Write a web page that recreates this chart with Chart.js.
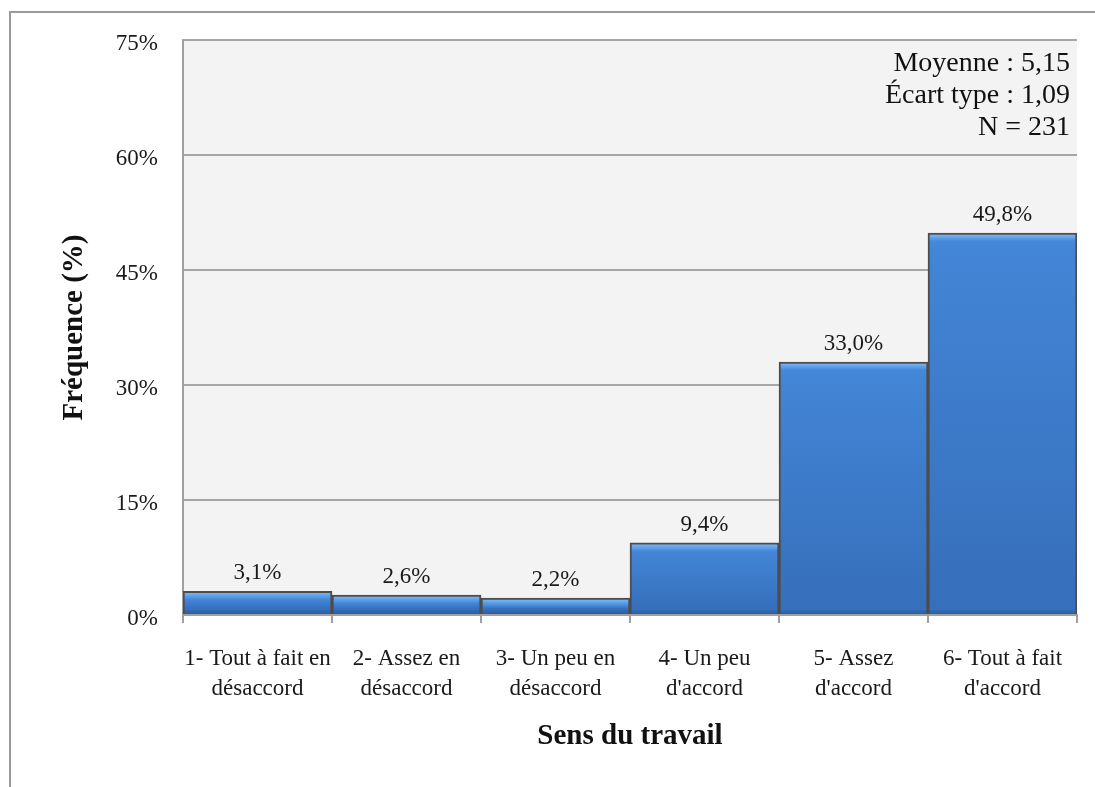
<!DOCTYPE html>
<html>
<head>
<meta charset="utf-8">
<script src="https://cdn.jsdelivr.net/npm/chart.js@4/dist/chart.umd.min.js"></script>
<style>
  html, body { margin: 0; padding: 0; background: #ffffff; overflow: hidden; }
  #wrap { width: 1095px; height: 787px; position: relative; }
</style>
</head>
<body>
<div id="wrap"><canvas id="c" width="1095" height="787"></canvas></div>
<script>
// Response categories (two-line labels)
const categories = [
  ['1- Tout à fait en', 'désaccord'],
  ['2- Assez en', 'désaccord'],
  ['3- Un peu en', 'désaccord'],
  ['4- Un peu', "d'accord"],
  ['5- Assez', "d'accord"],
  ['6- Tout à fait', "d'accord"]
];
// Frequency of each answer, in percent
const frequencies = [3.1, 2.6, 2.2, 9.4, 33.0, 49.8];
// Y axis ticks (percent)
const yTicks = [0, 15, 30, 45, 60, 75];
// Summary statistics shown in the top-right corner
const statLines = ['Moyenne : 5,15', 'Écart type : 1,09', 'N = 231'];
const xTitle = 'Sens du travail';
const yTitle = 'Fréquence (%)';

const SERIF = "'Liberation Serif', 'Times New Roman', serif";
const fmt = v => v.toFixed(1).replace('.', ',') + '%';

// Bevelled blue fill, built per bar from its own pixel extent
function barFill(context) {
  const chart = context.chart;
  const area = chart.chartArea;
  if (!area) return '#3f80d0';
  const yScale = chart.scales.y;
  const v = context.raw;
  const top = yScale.getPixelForValue(v);
  const base = yScale.getPixelForValue(0);
  const h = Math.max(base - top, 1);
  const g = chart.ctx.createLinearGradient(0, top, 0, base);
  const s1 = Math.min(8 / h, 0.45);
  const s2 = Math.max(1 - 6 / h, s1 + 0.01);
  g.addColorStop(0, '#86c0f7');
  g.addColorStop(s1 * 0.5, '#63a5ec');
  g.addColorStop(s1, '#4689db');
  g.addColorStop(Math.min(s1 + 0.02, s2), '#4385d6');
  g.addColorStop(s2, '#366fbb');
  g.addColorStop(1, '#2a5b9c');
  return g;
}

// Outer frame and plot background
const backdrop = {
  id: 'backdrop',
  beforeDraw(chart) {
    const { ctx, chartArea: a } = chart;
    ctx.save();
    ctx.fillStyle = '#ffffff';
    ctx.fillRect(0, 0, chart.width, chart.height);
    ctx.strokeStyle = '#9a9a9a';
    ctx.lineWidth = 2;
    ctx.beginPath();
    ctx.moveTo(10, chart.height + 2);
    ctx.lineTo(10, 12);
    ctx.lineTo(chart.width + 2, 12);
    ctx.stroke();
    ctx.fillStyle = '#f3f3f3';
    ctx.fillRect(a.left, a.top, a.right - a.left, a.bottom - a.top);
    ctx.restore();
  }
};

// Value labels above the bars
const valueLabels = {
  id: 'valueLabels',
  afterDatasetsDraw(chart) {
    const { ctx } = chart;
    const meta = chart.getDatasetMeta(0);
    ctx.save();
    ctx.font = '23px ' + SERIF;
    ctx.fillStyle = '#1a1a1a';
    ctx.textAlign = 'center';
    ctx.textBaseline = 'alphabetic';
    meta.data.forEach((bar, i) => {
      ctx.fillText(fmt(frequencies[i]), bar.x, bar.y - 12);
    });
    ctx.restore();
  }
};

// Summary statistics text
const stats = {
  id: 'stats',
  afterDraw(chart) {
    const { ctx, chartArea: a } = chart;
    ctx.save();
    ctx.font = '28px ' + SERIF;
    ctx.fillStyle = '#111111';
    ctx.textAlign = 'right';
    ctx.textBaseline = 'middle';
    statLines.forEach((t, i) => ctx.fillText(t, a.right - 7, 64 + i * 32));
    ctx.restore();
  }
};

new Chart(document.getElementById('c'), {
  type: 'bar',
  data: {
    labels: categories,
    datasets: [{
      data: frequencies,
      backgroundColor: barFill,
      borderColor: '#4d4d4d',
      borderWidth: 2,
      borderSkipped: 'bottom',
      barPercentage: 1.0,
      categoryPercentage: 1.0
    }]
  },
  options: {
    responsive: false,
    animation: false,
    devicePixelRatio: 1,
    layout: { padding: { left: 0, top: 40, right: 18, bottom: 0 } },
    plugins: {
      legend: { display: false },
      tooltip: { enabled: false }
    },
    scales: {
      x: {
        offset: true,
        grid: {
          display: true,
          offset: true,
          drawOnChartArea: false,
          drawTicks: true,
          tickLength: 8,
          color: '#a0a0a0',
          lineWidth: 2
        },
        border: { display: true, color: '#a0a0a0', width: 2 },
        ticks: {
          autoSkip: false,
          maxRotation: 0,
          minRotation: 0,
          padding: 21,
          color: '#1a1a1a',
          font: { family: SERIF, size: 23, lineHeight: 1.3 }
        },
        title: {
          display: true,
          text: xTitle,
          color: '#111111',
          font: { family: SERIF, size: 29, weight: 'bold', lineHeight: 1.2 },
          padding: { top: 0, bottom: 33 }
        },
        afterFit(scale) { scale.height = 172; }
      },
      y: {
        min: 0,
        max: 75,
        afterBuildTicks(scale) { scale.ticks = yTicks.map(v => ({ value: v })); },
        grid: {
          color: '#a6a6a6',
          lineWidth: 2,
          drawTicks: false
        },
        border: { display: true, color: '#a0a0a0', width: 2 },
        ticks: {
          padding: 25,
          labelOffset: 4,
          color: '#1a1a1a',
          font: { family: SERIF, size: 23 },
          callback: v => v + '%'
        },
        title: {
          display: true,
          text: yTitle,
          color: '#111111',
          font: { family: SERIF, size: 29, weight: 'bold', lineHeight: 1.2 },
          padding: { top: 57, bottom: 0 }
        },
        afterFit(scale) { scale.width = 183; }
      }
    }
  },
  plugins: [backdrop, valueLabels, stats]
});
</script>
</body>
</html>
